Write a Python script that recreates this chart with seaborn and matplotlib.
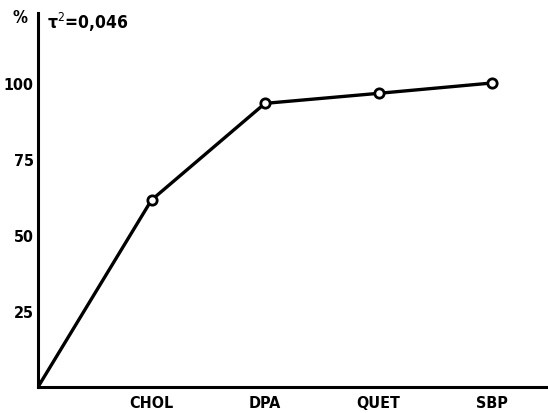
import matplotlib
matplotlib.use("Agg")
import matplotlib.pyplot as plt
import seaborn as sns
import pandas as pd

# Cumulative percentage per measure, starting from the origin
categories = ["CHOL", "DPA", "QUET", "SBP"]
values = [61.5, 93.3, 96.6, 100.0]
origin_value = 0.0
y_ticks = [25, 50, 75, 100]
stat_text = "τ$^2$=0,046"

sns.set_theme(style="white")
plt.rcParams["font.family"] = ["DejaVu Sans"]
plt.rcParams["font.stretch"] = "condensed"
plt.rcParams["text.color"] = "black"
plt.rcParams["mathtext.fontset"] = "dejavusans"

positions = list(range(1, len(categories) + 1))
line_df = pd.DataFrame({"pos": [0] + positions, "pct": [origin_value] + values})
point_df = pd.DataFrame({"pos": positions, "pct": values})

fig = plt.figure(figsize=(5.48, 4.14), dpi=100)
ax = fig.add_axes([38 / 548, 1 - 388 / 414, 1 - 38 / 548, (388 - 14) / 414])

sns.lineplot(data=line_df, x="pos", y="pct", ax=ax, color="black",
             linewidth=2.4, estimator=None, sort=False)
sns.scatterplot(data=point_df, x="pos", y="pct", ax=ax, s=45,
                facecolor="white", edgecolor="black", linewidth=2.0, zorder=3)

ax.set_xlim(0, (548 - 38) / 113.5)
ax.set_ylim(0, (388 - 14) / 3.04)
ax.set_xticks(positions)
ax.set_xticklabels(categories)
ax.set_yticks(y_ticks)
ax.set_yticklabels([str(t) for t in y_ticks])
ax.set_xlabel("")
ax.set_ylabel("")

for side in ("top", "right"):
    ax.spines[side].set_visible(False)
for side in ("left", "bottom"):
    ax.spines[side].set_color("black")
    ax.spines[side].set_linewidth(2.2)

ax.tick_params(axis="both", direction="in", length=4, width=1.2,
               colors="black", labelsize=11.5)
ax.tick_params(axis="x", pad=6)
ax.tick_params(axis="y", pad=3)
for lbl in ax.get_xticklabels() + ax.get_yticklabels():
    lbl.set_fontweight("bold")

fig.text(20 / 548, 1 - 18 / 414, "%", fontsize=12, fontweight="bold",
         ha="center", va="center")
fig.text(47 / 548, 1 - 22 / 414, stat_text, fontsize=12.5, fontweight="bold",
         ha="left", va="center")

fig.savefig("out.png", dpi=100)
